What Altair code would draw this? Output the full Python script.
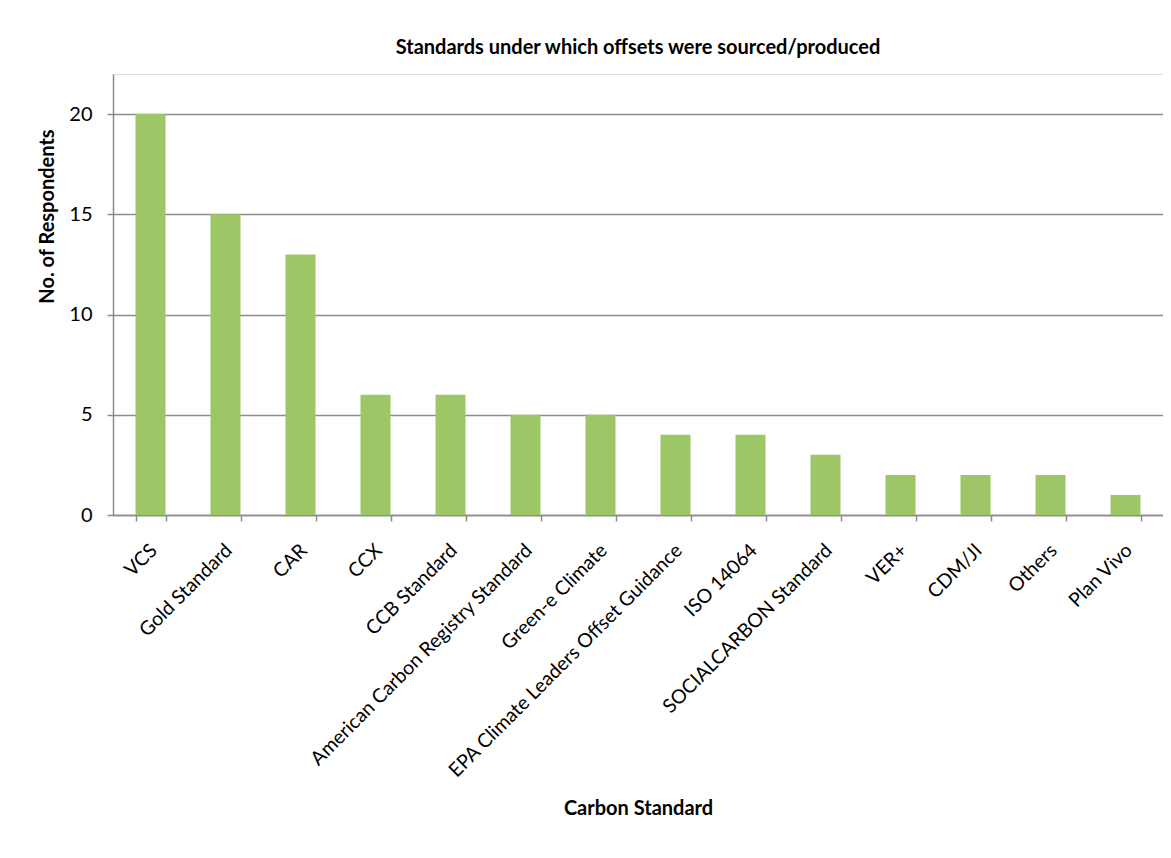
import altair as alt
import pandas as pd

standards = [
    "VCS", "Gold Standard", "CAR", "CCX", "CCB Standard",
    "American Carbon Registry Standard", "Green-e Climate",
    "EPA Climate Leaders Offset Guidance", "ISO 14064",
    "SOCIALCARBON Standard", "VER+", "CDM/JI", "Others", "Plan Vivo",
]
respondents = [20, 15, 13, 6, 6, 5, 5, 4, 4, 3, 2, 2, 2, 1]

df = pd.DataFrame({"standard": standards, "n": respondents})

FONT = "Lato"
GRAY = "#8c8c8c"

chart = (
    alt.Chart(df)
    .mark_bar(color="#9dc766")
    .encode(
        x=alt.X(
            "standard:N",
            sort=standards,
            scale=alt.Scale(paddingInner=0.6, paddingOuter=0.3),
            axis=alt.Axis(
                title="Carbon Standard",
                labelAngle=-45,
                labelAlign="right",
                labelBaseline="middle",
                labelPadding=26,
                labelOffset=3,
                labelFontSize=19.5,
                labelFont=FONT,
                labelColor="#000000",
                labelLimit=500,
                tickBand="extent",
                tickSize=6,
                tickColor=GRAY,
                domainColor=GRAY,
                domainWidth=1.5,
                tickWidth=1.5,
                titleFont=FONT,
                titleFontSize=20,
                titleFontWeight="bold",
                titleColor="#000000",
                titleY=293,
                titleBaseline="middle",
            ),
        ),
        y=alt.Y(
            "n:Q",
            scale=alt.Scale(domain=[0, 22], nice=False),
            axis=alt.Axis(
                title="No. of Respondents",
                values=[0, 5, 10, 15, 20],
                labelFontSize=20,
                labelFont=FONT,
                labelColor="#000000",
                labelPadding=15,
                tickSize=6,
                tickColor=GRAY,
                tickWidth=1.5,
                domainColor=GRAY,
                domainWidth=1.5,
                grid=True,
                gridColor=GRAY,
                gridWidth=1.5,
                titleFont=FONT,
                titleFontSize=20,
                titleFontWeight="bold",
                titleColor="#000000",
                titleX=-66,
                titleY=142,
                titleAngle=-90,
                titleAlign="center",
                titleBaseline="middle",
            ),
        ),
    )
    .properties(
        width=1050,
        height=441,
        title=alt.TitleParams(
            "Standards under which offsets were sourced/produced",
            font=FONT,
            fontSize=20,
            fontWeight="bold",
            color="#000000",
            anchor="middle",
            offset=16,
        ),
        autosize=alt.AutoSizeParams(type="none"),
        padding={"left": 105, "top": 66, "right": 0, "bottom": 330},
    )
    .configure_view(stroke=None)
    .configure(background="#ffffff")
)

chart.save("out.html", embed_options={"renderer": "svg", "actions": False})
